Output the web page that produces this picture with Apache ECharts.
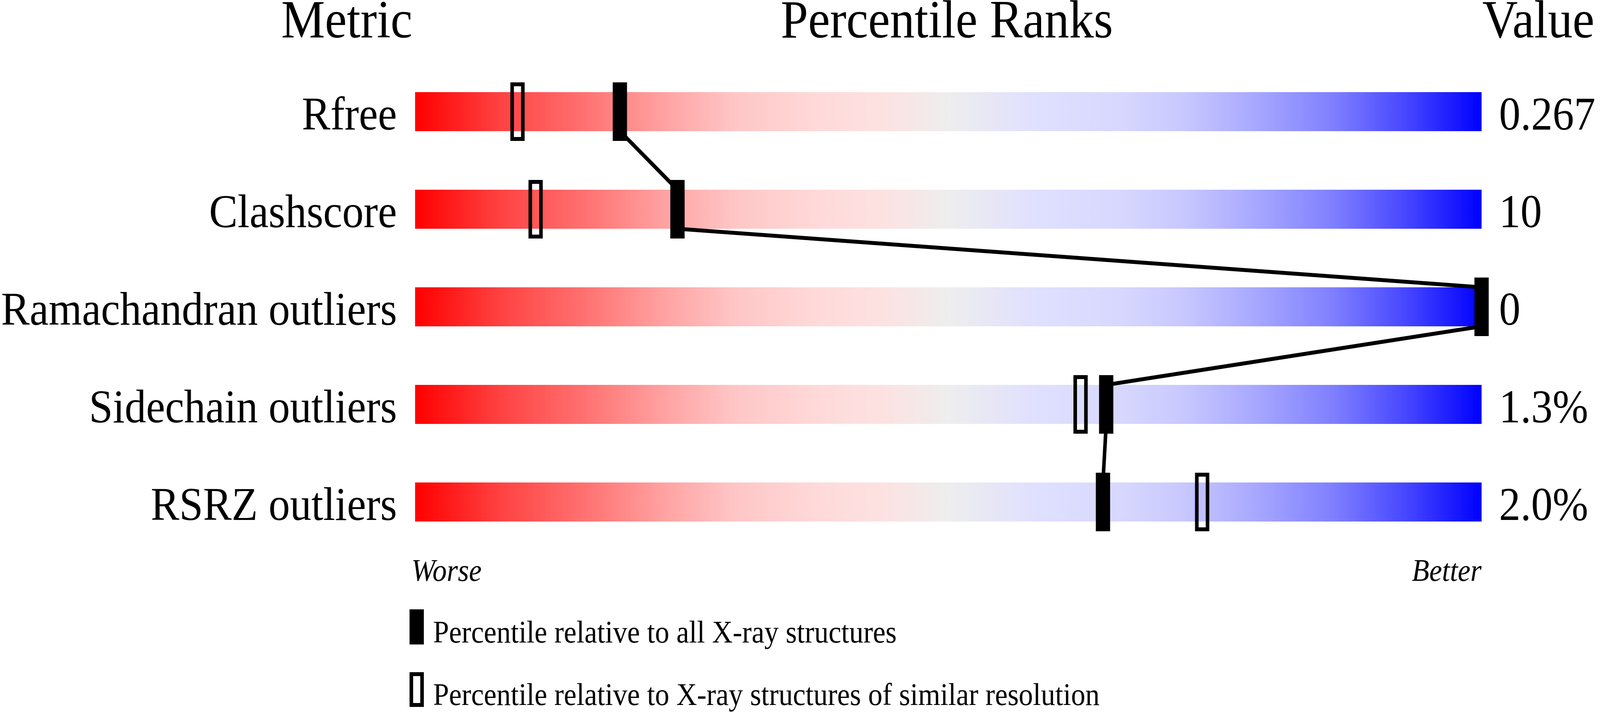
<!DOCTYPE html>
<html>
<head>
<meta charset="utf-8">
<script src="https://cdn.jsdelivr.net/npm/echarts@6/dist/echarts.min.js"></script>
<style>
html,body{margin:0;padding:0;background:#fff;overflow:hidden;}
#chart{width:4485px;height:1824px;transform-origin:0 0;}
</style>
</head>
<body>
<div id="chart"></div>
<script>
// ---- data ----
const metrics = ['Rfree', 'Clashscore', 'Ramachandran outliers', 'Sidechain outliers', 'RSRZ outliers'];
const metricValues = ['0.267', '10', '0', '1.3%', '2.0%'];
const pctAll = [19.2, 24.6, 100, 64.8, 64.5];        // percentile relative to all X-ray structures
const pctSimilar = [9.6, 11.3, 100, 62.4, 73.8];     // percentile relative to similar resolution
const fullScale = [100, 100, 100, 100, 100];
const titles = ['Metric', 'Percentile Ranks', 'Value'];
const endLabels = ['Worse', 'Better'];
const legendNames = ['Percentile relative to all X-ray structures',
                     'Percentile relative to X-ray structures of similar resolution'];

// ---- layout / styling constants ----
const DESIGN_W = 4485, DESIGN_H = 1824;
const FONT = 'Liberation Serif';
const BAR_W = 100;
const HALF = BAR_W / 2;

// fit the design canvas into the actual viewport
const el = document.getElementById('chart');
const sx = window.innerWidth / DESIGN_W;
const sy = window.innerHeight / DESIGN_H;
if (Math.abs(sx - 1) > 0.001 || Math.abs(sy - 1) > 0.001) {
  el.style.transform = 'scale(' + sx + ',' + sy + ')';
}

const chart = echarts.init(el, null, {renderer: 'canvas'});

const gradient = {
  type: 'linear', x: 0, y: 0, x2: 1, y2: 0,
  colorStops: [
    {offset: 0.00, color: '#ff0000'},
    {offset: 0.08, color: '#ff4242'},
    {offset: 0.16, color: '#ff7272'},
    {offset: 0.24, color: '#ffa6a6'},
    {offset: 0.30, color: '#ffc6c6'},
    {offset: 0.38, color: '#ffdada'},
    {offset: 0.44, color: '#fde2e2'},
    {offset: 0.50, color: '#eeeeee'},
    {offset: 0.58, color: '#e0e0ff'},
    {offset: 0.66, color: '#d8d8ff'},
    {offset: 0.72, color: '#c8c8ff'},
    {offset: 0.78, color: '#acacff'},
    {offset: 0.86, color: '#8080ff'},
    {offset: 0.93, color: '#4646ff'},
    {offset: 1.00, color: '#0000ff'}
  ]
};

const linkData = [];
for (let i = 0; i < pctAll.length - 1; i++) {
  linkData.push([pctAll[i], i, pctAll[i + 1], i + 1]);
}

const openPath = 'path://M0 0H40V150H0Z M10 10V140H30V10Z';

// a leading empty line with a small line height nudges the label down onto the bar's baseline
const nudge = v => '\n' + v;

const option = {
  backgroundColor: '#ffffff',
  animation: false,
  grid: {left: 1153, right: 332, top: 161, bottom: 413},
  xAxis: {type: 'value', min: 0, max: 100, show: false},
  yAxis: [
    {
      type: 'category', data: metrics, inverse: true, position: 'left',
      axisLine: {show: false}, axisTick: {show: false}, splitLine: {show: false},
      axisLabel: {fontFamily: FONT, fontSize: 120, color: '#000', margin: 51, lineHeight: 28, formatter: nudge}
    },
    {
      type: 'category', data: metricValues, inverse: true, position: 'right',
      axisLine: {show: false}, axisTick: {show: false}, splitLine: {show: false},
      axisLabel: {fontFamily: FONT, fontSize: 120, color: '#000', margin: 49, align: 'left', lineHeight: 28, formatter: nudge}
    }
  ],
  graphic: [
    {type: 'text', x: 1156, y: 60, style: {text: titles[0], font: '138px "' + FONT + '"', fill: '#000', align: 'right', verticalAlign: 'middle'}},
    {type: 'text', x: 2654, y: 60, style: {text: titles[1], font: '138px "' + FONT + '"', fill: '#000', align: 'center', verticalAlign: 'middle'}},
    {type: 'text', x: 4155, y: 60, style: {text: titles[2], font: '138px "' + FONT + '"', fill: '#000', align: 'left', verticalAlign: 'middle'}},
    {type: 'text', x: 1153, y: 1467, style: {text: endLabels[0], font: 'italic 80px "' + FONT + '"', fill: '#000', align: 'left', verticalAlign: 'middle'}},
    {type: 'text', x: 4153, y: 1467, style: {text: endLabels[1], font: 'italic 80px "' + FONT + '"', fill: '#000', align: 'right', verticalAlign: 'middle'}},
    // legend
    {type: 'rect', shape: {x: 1148, y: 1561, width: 40, height: 90}, style: {fill: '#000'}},
    {type: 'text', x: 1214, y: 1625, style: {text: legendNames[0], font: '80px "' + FONT + '"', fill: '#000', align: 'left', verticalAlign: 'middle'}},
    {type: 'rect', shape: {x: 1153, y: 1727, width: 30, height: 79}, style: {fill: 'none', stroke: '#000', lineWidth: 10}},
    {type: 'text', x: 1214, y: 1785, style: {text: legendNames[1], font: '80px "' + FONT + '"', fill: '#000', align: 'left', verticalAlign: 'middle'}}
  ],
  series: [
    {
      name: 'scale', type: 'bar', data: fullScale, barWidth: BAR_W, z: 1,
      itemStyle: {color: gradient}, silent: true
    },
    {
      name: 'links', type: 'custom', z: 3, silent: true,
      data: linkData,
      encode: {x: [0, 2], y: [1, 3]},
      renderItem: function (params, api) {
        const a = api.coord([api.value(0), api.value(1)]);
        const b = api.coord([api.value(2), api.value(3)]);
        return {
          type: 'line',
          shape: {x1: a[0], y1: a[1] + HALF, x2: b[0], y2: b[1] - HALF},
          style: {stroke: '#000', lineWidth: 10}
        };
      }
    },
    {
      name: legendNames[1], type: 'scatter', z: 4, silent: true,
      symbol: openPath, symbolSize: [40, 150],
      itemStyle: {color: '#000', opacity: 1},
      data: pctSimilar.map((p, i) => [p, i])
    },
    {
      name: legendNames[0], type: 'scatter', z: 5, silent: true,
      symbol: 'rect', symbolSize: [40, 150],
      itemStyle: {color: '#000', opacity: 1},
      data: pctAll.map((p, i) => [p, i])
    }
  ]
};
chart.setOption(option);
</script>
</body>
</html>
